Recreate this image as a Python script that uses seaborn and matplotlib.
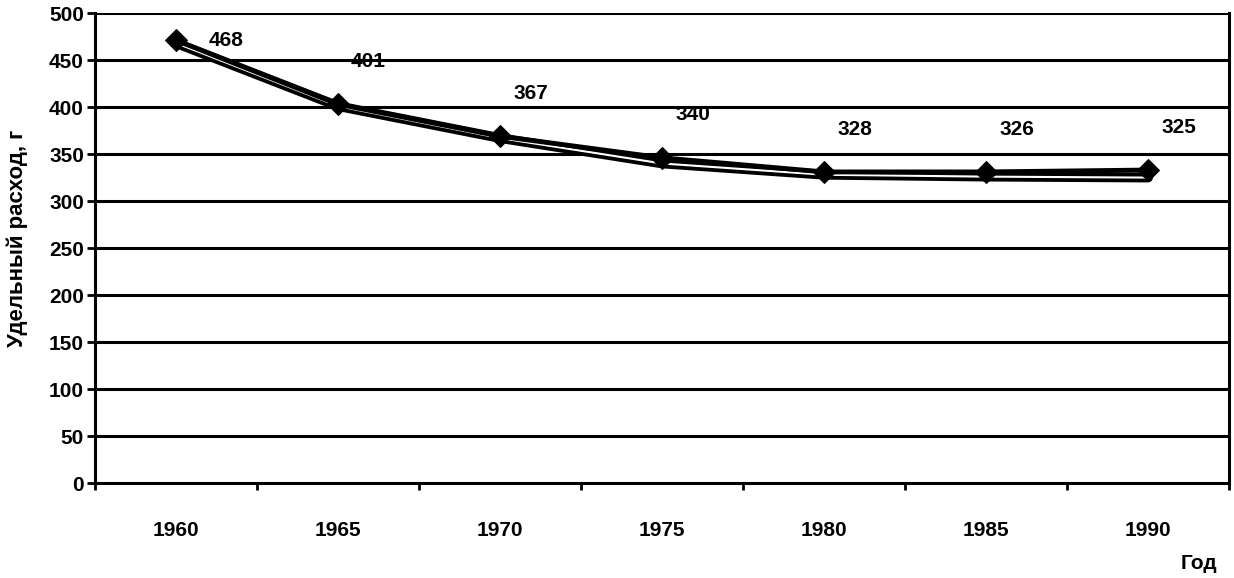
import numpy as np
import pandas as pd
import matplotlib.pyplot as plt
import seaborn as sns

years = [1960, 1965, 1970, 1975, 1980, 1985, 1990]
labels = [468, 401, 367, 340, 328, 326, 325]
# marker positions as drawn in the scan (they sit a bit off the labels)
markers = [471, 403, 369, 346, 331, 331, 333]
yticks = [0, 50, 100, 150, 200, 250, 300, 350, 400, 450, 500]

df = pd.DataFrame({'Год': years, 'label': labels, 'marker': markers})

sns.set_style('white')
plt.rcParams['font.family'] = ['Liberation Sans', 'DejaVu Sans']
plt.rcParams['font.weight'] = 'bold'

fig = plt.figure(figsize=(12.34, 5.78), dpi=100)
ax = fig.add_axes([0.077, 0.164, 0.919, 0.8135])

for y in yticks[1:]:
    ax.axhline(y, color='black', lw=2.2, zorder=1)

# trend line: hollow double line
sns.lineplot(data=df, x='Год', y='label', ax=ax, color='black', lw=7, zorder=2)
sns.lineplot(data=df, x='Год', y='label', ax=ax, color='white', lw=1.5, zorder=3)
# data line with diamonds
sns.lineplot(data=df, x='Год', y='marker', ax=ax, color='black', lw=3.5,
             marker='D', markersize=11, markeredgecolor='black', zorder=4)

for x, yv, t in zip(years, markers, labels):
    # no room above the first point, so that label goes to the right
    off = (36, 0) if yv > 450 else (22, 24)
    ax.annotate(str(t), (x, yv), xytext=off, textcoords='offset points',
                ha='center', va='center' if yv > 450 else 'bottom',
                fontsize=15, fontweight='bold', color='black')

ax.set_xlim(1957.5, 1992.5)
ax.set_ylim(0, 500)
ax.set_xticks(years)
ax.set_xticklabels([str(y) for y in years])
ax.set_xticks(np.arange(1957.5, 1993, 5), minor=True)
ax.set_yticks(yticks)
ax.tick_params(axis='x', which='major', length=0, pad=27, labelsize=15, labelcolor='black')
ax.tick_params(axis='x', which='minor', length=5, width=2, direction='out', color='black')
ax.tick_params(axis='y', length=6, width=2, direction='out', color='black',
               labelsize=15, labelcolor='black', pad=2)
ax.tick_params(left=True, bottom=True, which='both')

for s in ['left', 'bottom', 'right']:
    ax.spines[s].set_color('black')
    ax.spines[s].set_linewidth(2.2)
ax.spines['top'].set_visible(False)

ax.set_ylabel('Удельный расход, г', fontsize=16, fontweight='bold', color='black')
ax.yaxis.set_label_coords(-0.059, 0.52)
ax.set_xlabel('Год', fontsize=15, fontweight='bold', color='black')
ax.xaxis.set_label_coords(0.99, -0.15)
ax.xaxis.label.set_ha('right')

fig.savefig('out.png', dpi=100)
